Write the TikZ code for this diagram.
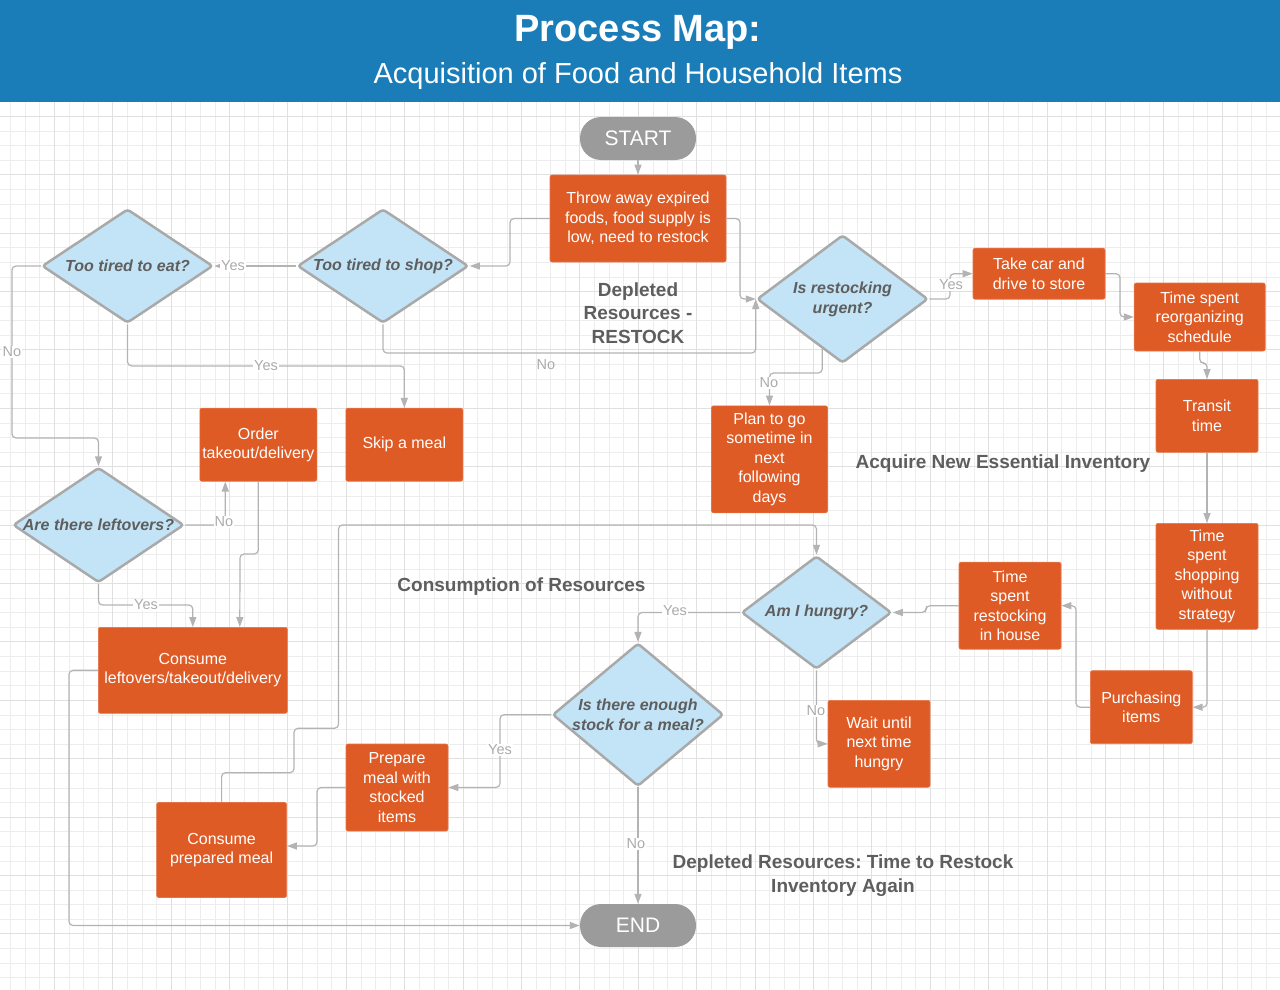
\documentclass[tikz,border=0pt]{standalone}
\usepackage{fontspec}
\setmainfont{Liberation Sans}
\usepackage{xcolor}
\usepackage{tikz}
\usetikzlibrary{arrows.meta,shapes.geometric,calc}
\frenchspacing

\definecolor{headblue}{HTML}{1B7DB8}
\definecolor{boxorange}{HTML}{DF5B26}
\definecolor{decblue}{HTML}{C3E4F6}
\definecolor{decgray}{HTML}{A9A9A9}
\definecolor{termgray}{HTML}{9B9B9B}
\definecolor{linegray}{HTML}{B3B3B3}
\definecolor{labelgray}{HTML}{ABABAB}
\definecolor{textgray}{HTML}{5E5E5E}
\definecolor{gridminor}{HTML}{EDEDED}
\definecolor{gridmajor}{HTML}{E0E0E0}
\newcommand{\fsz}[2]{\fontsize{#1}{#2}\selectfont}

\begin{document}
\begin{tikzpicture}[x=1pt,y=-1pt,
    dims/.style 2 args={minimum width=#1pt,minimum height=#2pt},
    box/.style={rectangle,fill=boxorange,draw=boxorange!85!white,line width=0.6pt,rounded corners=2pt,
        text=white,align=center,inner sep=0pt,font=\fsz{16}{19.5}},
    decision/.style={diamond,aspect=1.5,fill=decblue,draw=decgray,line width=2.5pt,rounded corners=3pt,
        text=textgray,align=center,inner sep=0pt,font=\fsz{16}{20}\bfseries\itshape},
    terminal/.style={rectangle,fill=termgray,rounded corners=21pt,dims={116}{43},
        text=white,inner sep=0pt,font=\fsz{21}{24}},
    conn/.style={draw=linegray,line width=1.2pt,rounded corners=4pt,-{Triangle[length=10pt,width=7pt]}},
    lbl/.style={text=labelgray,fill=white,inner sep=1pt,font=\fsz{14.5}{16}},
    section/.style={text=textgray,align=center,font=\fsz{19}{23.5}\bfseries}]
    \useasboundingbox (0,0) rectangle (1280,990);

    % Grid
    \foreach \i in {0,...,87} {\pgfmathtruncatemacro\r{mod(\i,4)}
        \ifnum\r=3\relax\else\draw[gridminor,line width=0.8pt] ({10.5+14.6*\i},101) -- ++(0,889);\fi}
    \foreach \i in {2,...,60} {\pgfmathtruncatemacro\r{mod(\i,4)}
        \ifnum\r=1\relax\else\draw[gridminor,line width=0.8pt] (0,{101.7+14.6*\i}) -- ++(1280,0);\fi}
    \foreach \i in {0,...,21} {\draw[gridmajor,line width=0.9pt] ({54.3+58.4*\i},101) -- ++(0,889);}
    \foreach \i in {0,...,14} {\draw[gridmajor,line width=0.9pt] (0,{116.3+58.4*\i}) -- ++(1280,0);}

    % Header
    \fill[headblue] (0,0) rectangle (1280,102);
    \node[text=white,font=\fsz{38}{40}\bfseries] (title) at (638,32.5) {Process Map:};
    \node[text=white,font=\fsz{29}{32}] (subtitle) at (638,76) {Acquisition of Food and Household Items};

    % Section titles
    \node[section] (restockhead) at (638,313) {Depleted\\Resources -\\RESTOCK};
    \node[section] (acquirehead) at (1003,464) {Acquire New Essential Inventory};
    \node[section] (consumehead) at (521.5,587) {Consumption of Resources};
    \node[section] (depletehead) at (843,875.5) {Depleted Resources: Time to Restock\\Inventory Again};

    % Restock
    \node[terminal] (start) at (638,138.5) {START};
    \node[box,dims={176}{87}] (throw) at (638,218.5) {Throw away expired\\foods, food supply is\\low, need to restock};
    \node[decision,dims={171}{114}] (eat) at (127.5,266) {Too tired to eat?};
    \node[decision,dims={171}{114}] (shop) at (383,266) {Too tired to shop?};
    \node[decision,dims={171}{128}] (urgent) at (842.5,299) {Is restocking\\urgent?};
    \node[decision,inner xsep=-4pt,dims={171}{115}] (leftovers) at (98.5,525) {Are there leftovers?};
    \node[box,dims={117}{73}] (order) at (258.3,444.7) {Order\\takeout/delivery};
    \node[box,dims={117}{73}] (skip) at (404.3,444.7) {Skip a meal};
    \node[box,dims={189}{86}] (consumeL) at (192.8,670.3) {Consume\\leftovers/takeout/delivery};
    \node[box,dims={116}{107}] (plan) at (769.5,459.3) {Plan to go\\sometime in\\next\\following\\days};

    % Acquire
    \node[box,dims={132}{51}] (takecar) at (1039,273.7) {Take car and\\drive to store};
    \node[box,dims={131}{68}] (reorg) at (1199.7,317) {Time spent\\reorganizing\\schedule};
    \node[box,dims={102}{73}] (transit) at (1207,415.8) {Transit\\time};
    \node[box,dims={102}{106}] (shopping) at (1207,576.3) {Time\\spent\\shopping\\without\\strategy};
    \node[box,dims={102}{73}] (purchase) at (1141.3,707.2) {Purchasing\\items};
    \node[box,dims={102}{87}] (restock) at (1010,605.7) {Time\\spent\\restocking\\in house};

    % Consumption
    \node[decision,aspect=1.33,dims={150}{113}] (hungry) at (816.5,612.5) {Am I hungry?};
    \node[decision,aspect=1.2,dims={171}{143}] (enough) at (638,714.7) {Is there enough\\stock for a meal?};
    \node[box,dims={102}{87}] (wait) at (879,743.8) {Wait until\\next time\\hungry};
    \node[box,dims={102}{87}] (prepare) at (397,787.5) {Prepare\\meal with\\stocked\\items};
    \node[box,dims={130}{95}] (consumeP) at (221.6,850) {Consume\\prepared meal};
    \node[terminal] (finish) at (638,925.5) {END};

    % Connectors
    \draw[conn] (start.south) -- (throw.north);
    \draw[conn] (throw.west) -- (510,218.5) |- (shop.east);
    \draw[conn] (throw.east) -- (740,218.5) |- (urgent.west);
    \draw[conn] (shop.west) -- (eat.east);
    \draw[conn] (shop.south) |- ([yshift=-54pt]urgent.west) -- (urgent.west);
    \draw[conn] (eat.south) |- ([yshift=42pt]skip.north) -- (skip.north);
    \draw[conn] (eat.west) -| (12,438) -| (leftovers.north);
    \draw[conn] (leftovers.east) -| ([xshift=-33pt]order.south);
    \draw[conn] (leftovers.south) |- ([yshift=22pt]consumeL.north) -- (consumeL.north);
    \draw[conn] (order.south) |- (240,554) -- ([xshift=47pt]consumeL.north);
    \draw[conn] (consumeL.west) -| (69,925.5) -- (finish.west);
    \draw[conn] (consumeP.north) |- (294,772.7) |- (338.5,728.3) |- (816.5,525) -- (hungry.north);
    \draw[conn] (hungry.west) -| (enough.north);
    \draw[conn] (hungry.south) |- (wait.west);
    \draw[conn] (enough.west) -| (500,787.5) -- (prepare.east);
    \draw[conn] (prepare.west) -| (317,846) -- ([yshift=4pt]consumeP.east);
    \draw[conn] (enough.south) -- (finish.north);
    \draw[conn] (urgent.east) -| (950,273.7) -- (takecar.west);
    \draw[conn] (urgent.-112) |- (769.5,373) -- (plan.north);
    \draw[conn] (takecar.east) -| (1120,317) -- (reorg.west);
    \draw[conn] (reorg.south) |- (1207,363) -- (transit.north);
    \draw[conn] (transit.south) -- (shopping.north);
    \draw[conn] (shopping.south) |- (purchase.east);
    \draw[conn] (purchase.west) -| (1076,605.7) -- (restock.east);
    \draw[conn] (restock.west) -| (926,612.5) -- (hungry.east);

    % Yes / No
    \node[lbl] (yes1) at (233,266) {Yes};
    \node[lbl,fill=none] (no1) at (546,365) {No};
    \node[lbl] (yes2) at (266,366) {Yes};
    \node[lbl] (no2) at (12,352) {No};
    \node[lbl] (no3) at (224,522) {No};
    \node[lbl] (yes3) at (146,605) {Yes};
    \node[lbl] (yes4) at (675,611) {Yes};
    \node[lbl] (no4) at (816,711) {No};
    \node[lbl] (yes5) at (500,750) {Yes};
    \node[lbl] (no5) at (636,844) {No};
    \node[lbl] (yes6) at (951,285) {Yes};
    \node[lbl] (no6) at (769,383) {No};
\end{tikzpicture}
\end{document}
